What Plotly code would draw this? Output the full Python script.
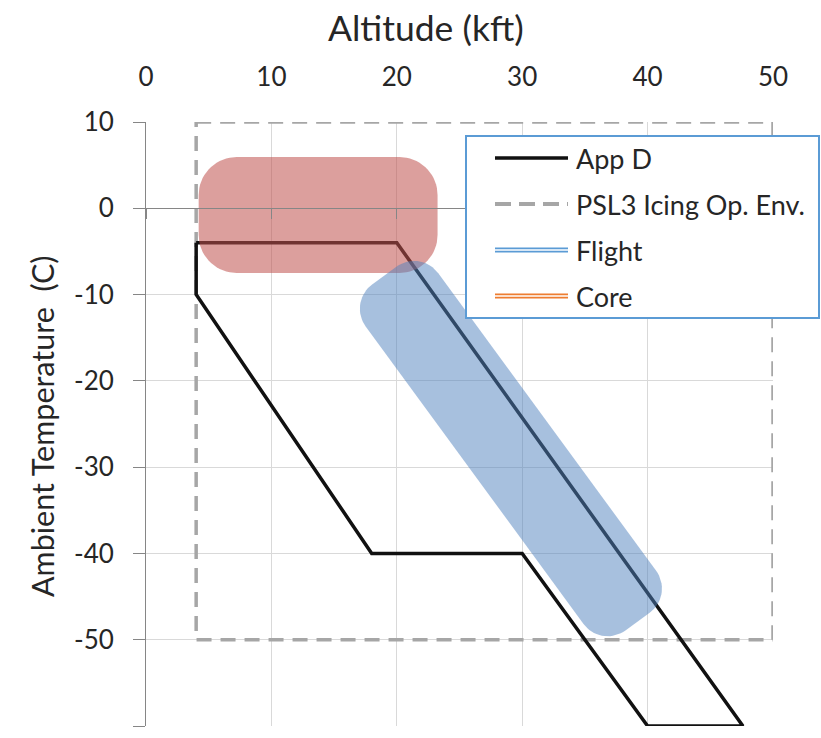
import math
import numpy as np
import plotly.graph_objects as go

# ---------------- data ----------------
APP_D_X = [4, 20, 47.6, 40, 30, 18, 4, 4]
APP_D_Y = [-4, -4, -60, -60, -40, -40, -10, -4]

PSL3_X = [4, 50, 50, 4, 4]
PSL3_Y = [10, 10, -50, -50, 10]

# thick rounded bands: centreline end points (altitude kft, temperature C)
FLIGHT_X = [19.0, 39.2]
FLIGHT_Y = [-7.8, -47.9]
CORE_X = [4.2, 23.25]
CORE_Y = [-0.78, -0.78]

X_RANGE = [0, 50]
Y_RANGE = [-60, 10]
X_TICKS = [0, 10, 20, 30, 40, 50]
X_TICK_LABELS = ["0", "10", "20", "30", "40", "50"]
Y_TICKS = [10, 0, -10, -20, -30, -40, -50, -60]
Y_TICK_LABELS = ["10", "0", "-10", "-20", "-30", "-40", "-50", "-60"]

LEGEND_NAMES = ["App D", "PSL3 Icing Op. Env.", "Flight", "Core"]

# ---------------- layout geometry ----------------
W, H = 821, 738
ML, MT = 146, 122
PW, PH = 627, 604
MR, MB = W - ML - PW, H - MT - PH
SX = PW / (X_RANGE[1] - X_RANGE[0])
SY = PH / (Y_RANGE[1] - Y_RANGE[0])

FONT = "Lato"
TXT = "#262626"


def rounded_band(xs, ys, width_px, radius_px, n=18):
    x0, y0 = xs[0] * SX, ys[0] * SY
    x1, y1 = xs[1] * SX, ys[1] * SY
    dx, dy = x1 - x0, y1 - y0
    L = math.hypot(dx, dy)
    ux, uy = dx / L, dy / L
    nx, ny = -uy, ux
    h = width_px / 2
    r = radius_px
    centers = [(L - r, h - r, 0, 90), (r, h - r, 90, 180),
               (r, -(h - r), 180, 270), (L - r, -(h - r), 270, 360)]
    px, py = [], []
    for cs, cq, a0, a1 in centers:
        for a in np.linspace(math.radians(a0), math.radians(a1), n):
            s = cs + r * math.cos(a)
            q = cq + r * math.sin(a)
            X = x0 + s * ux + q * nx
            Y = y0 + s * uy + q * ny
            px.append(X / SX)
            py.append(Y / SY)
    px.append(px[0])
    py.append(py[0])
    return px, py


fig = go.Figure()

fig.add_trace(go.Scatter(x=PSL3_X, y=PSL3_Y, mode="lines", name=LEGEND_NAMES[1],
                         line=dict(color="#A6A6A6", width=3.5, dash="15px,9px"),
                         showlegend=False, hoverinfo="skip"))
fig.add_trace(go.Scatter(x=APP_D_X, y=APP_D_Y, mode="lines", name=LEGEND_NAMES[0],
                         line=dict(color="#111111", width=3.5),
                         showlegend=False, hoverinfo="skip"))

cx, cy = rounded_band(CORE_X, CORE_Y, 116, 38)
fig.add_trace(go.Scatter(x=cx, y=cy, mode="lines", fill="toself", name=LEGEND_NAMES[3],
                         fillcolor="rgba(192,80,77,0.55)", line=dict(width=0),
                         showlegend=False, hoverinfo="skip"))
fx, fy = rounded_band(FLIGHT_X, FLIGHT_Y, 90, 30)
fig.add_trace(go.Scatter(x=fx, y=fy, mode="lines", fill="toself", name=LEGEND_NAMES[2],
                         fillcolor="rgba(79,129,189,0.5)", line=dict(width=0),
                         showlegend=False, hoverinfo="skip"))

# empty trace to create the zero-line axis
fig.add_trace(go.Scatter(x=[], y=[], xaxis="x2", yaxis="y", showlegend=False))


def px2paper_x(p):
    return (p - ML) / PW


def px2paper_y(p):
    return (MT + PH - p) / PH


shapes = []
annotations = []

# legend box
shapes.append(dict(type="rect", xref="paper", yref="paper",
                   x0=px2paper_x(466), x1=px2paper_x(819),
                   y0=px2paper_y(318), y1=px2paper_y(136),
                   line=dict(color="#5B9BD5", width=2), fillcolor="white", layer="above"))
item_y = [158, 204, 250, 296]
lx0, lx1 = px2paper_x(495), px2paper_x(568)
styles = [
    [dict(color="#111111", width=3.5)],
    [dict(color="#A6A6A6", width=4, dash="16px,8px")],
    [dict(color="#5B9BD5", width=5), dict(color="white", width=1.5)],
    [dict(color="#ED7D31", width=5), dict(color="white", width=1.5)],
]
for yy, st, name in zip(item_y, styles, LEGEND_NAMES):
    for s in st:
        shapes.append(dict(type="line", xref="paper", yref="paper",
                           x0=lx0, x1=lx1, y0=px2paper_y(yy), y1=px2paper_y(yy),
                           line=s, layer="above"))
    annotations.append(dict(text=name, xref="paper", yref="paper",
                            x=px2paper_x(574), y=px2paper_y(yy), xanchor="left", yanchor="middle",
                            showarrow=False, font=dict(family=FONT, size=27, color=TXT)))

# axis titles
annotations.append(dict(text="Altitude (kft)", xref="paper", yref="paper",
                        x=px2paper_x(425.5), y=px2paper_y(27), xanchor="center", yanchor="middle",
                        showarrow=False, font=dict(family=FONT, size=35.5, color=TXT)))
annotations.append(dict(text="Ambient Temperature  (C)", xref="paper", yref="paper",
                        x=px2paper_x(42), y=px2paper_y(427), xanchor="center", yanchor="middle",
                        textangle=-90, showarrow=False,
                        font=dict(family=FONT, size=30.5, color=TXT)))

fig.update_layout(
    width=W, height=H, autosize=False,
    margin=dict(l=ML, r=MR, t=MT, b=MB, pad=0),
    paper_bgcolor="white", plot_bgcolor="white",
    showlegend=False,
    xaxis=dict(side="top", range=X_RANGE, tickvals=X_TICKS, ticktext=X_TICK_LABELS,
               showgrid=True, gridcolor="#D9D9D9", gridwidth=1, zeroline=False,
               showline=False, ticks="", tickfont=dict(family=FONT, size=26, color=TXT),
               ticklabelstandoff=30),
    xaxis2=dict(overlaying="x", anchor="free", position=(0 - Y_RANGE[0]) / (Y_RANGE[1] - Y_RANGE[0]),
                side="bottom", range=X_RANGE, tickvals=X_TICKS, showgrid=False, zeroline=False,
                showline=True, linecolor="#868686", linewidth=1, ticks="outside", ticklen=10,
                tickcolor="#868686", showticklabels=False),
    yaxis=dict(range=Y_RANGE, tickvals=Y_TICKS, ticktext=Y_TICK_LABELS, showgrid=True,
               gridcolor="#D9D9D9", gridwidth=1, zeroline=False, showline=True,
               linecolor="#868686", linewidth=1, ticks="outside", ticklen=12,
               tickcolor="#868686", tickfont=dict(family=FONT, size=26, color=TXT),
               ticklabelstandoff=14),
    shapes=shapes,
    annotations=annotations,
)

fig.write_html("out.html", config={"displayModeBar": False, "staticPlot": True},
               post_script="document.body.style.margin='0';document.body.style.overflow='hidden';")
